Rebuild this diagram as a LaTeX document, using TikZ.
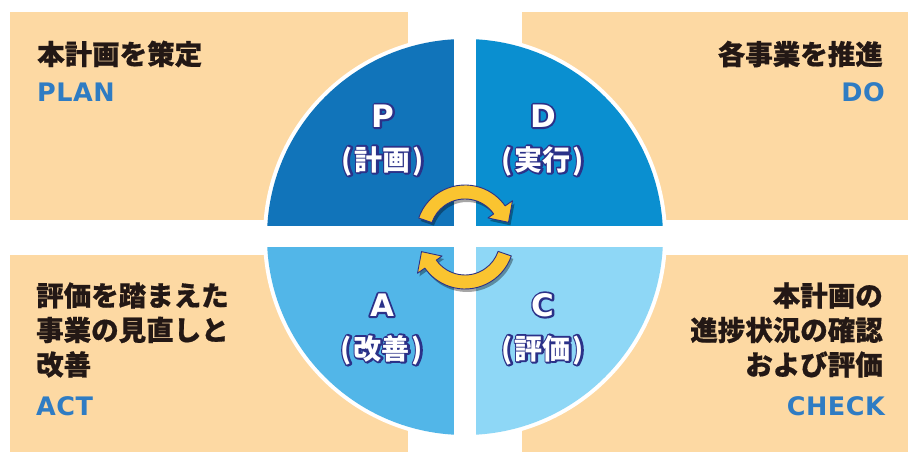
\documentclass[tikz,border=0pt]{standalone}
\usepackage{fontspec}
\newfontfamily\jp{Noto Sans CJK JP}
\newfontfamily\jph{Noto Sans CJK JP}[BoldFeatures={FakeBold=0.6}]
\newfontfamily\lat{DejaVu Sans}[LetterSpace=2]
\newfontfamily\latq{DejaVu Sans}
\usetikzlibrary{calc,shadows}
\definecolor{boxc}{HTML}{FDD9A3}
\definecolor{ink}{HTML}{231815}
\definecolor{blu}{HTML}{2F7CC3}
\definecolor{pc}{HTML}{1174BA}
\definecolor{dc}{HTML}{0A8FD0}
\definecolor{ac}{HTML}{52B6E8}
\definecolor{cc}{HTML}{8ED7F6}
\definecolor{navy}{HTML}{2B3188}
\definecolor{yel}{HTML}{FAC430}
\newcommand\otx[1]{%
  \makebox[0pt][l]{\special{pdf:literal direct 2 Tr 3.8 w 1 j}\textcolor{navy}{#1}\special{pdf:literal direct 0 Tr 0.4 w 0 j}}%
  \textcolor{white}{#1}}
\begin{document}
\begin{tikzpicture}[x=1pt,y=1pt,
  jtxt/.style={font=\jph\bfseries\fontsize{27.5}{34.5}\selectfont, text=ink, inner sep=0pt},
  etxt/.style={font=\lat\bfseries\fontsize{25.5}{25.5}\selectfont, text=blu, inner sep=0pt},
  qlbl/.style={inner sep=0pt, font=\jp\bfseries\fontsize{28}{28}\selectfont},
  qlet/.style={inner sep=0pt, font=\latq\bfseries\fontsize{31}{31}\selectfont},
  arrowshape/.style={fill=yel, draw=navy, line width=0.9pt, line join=round,
    drop shadow={shadow xshift=2pt,shadow yshift=-3pt,opacity=0.35,fill=black}}]
\useasboundingbox (0,0) rectangle (908,452);
\fill[white] (0,0) rectangle (908,452);
% boxes
\fill[boxc] (10,232) rectangle (408,440);
\fill[boxc] (522,232) rectangle (908,440);
\fill[boxc] (10,0) rectangle (408,197);
\fill[boxc] (522,0) rectangle (908,197);
% circle
\fill[white] (465,215) circle (202);
\begin{scope}
  \clip (465,215) circle (198);
  \fill[pc] (250,225.5) rectangle (454,420);
  \fill[dc] (476,225.5) rectangle (680,420);
  \fill[ac] (250,204.5) rectangle (454,10);
  \fill[cc] (476,204.5) rectangle (680,10);
\end{scope}
% arrows
\begin{scope}[shift={(465,218)}]
  \path[arrowshape] (161:49) arc[start angle=161,end angle=35,radius=49] -- (35:58) -- (15:45) -- (35:28) -- (35:35) arc[start angle=35,end angle=161,radius=35] -- cycle;
\end{scope}
\begin{scope}[shift={(465,212)}]
  \path[arrowshape] (-19:49) arc[start angle=-19,end angle=-145,radius=49] -- (-145:58) -- (-165:45) -- (-145:28) -- (-145:35) arc[start angle=-145,end angle=-19,radius=35] -- cycle;
\end{scope}
% box texts
\node[jtxt,anchor=west] (plj) at (37,398) {本計画を策定};
\node[etxt,anchor=west] (ple) at (37,360) {PLAN};
\node[jtxt,anchor=east] (doj) at (883,398) {各事業を推進};
\node[etxt,anchor=east] (doe) at (885,360) {DO};
\node[jtxt,anchor=west,align=left] (acj) at (36,122) {評価を踏まえた\\事業の見直しと\\改善};
\node[etxt,anchor=west] (ace) at (36,46) {ACT};
\node[jtxt,anchor=east,align=right] (chj) at (883,122) {本計画の\\進捗状況の確認\\および評価};
\node[etxt,anchor=east] (che) at (885,46) {CHECK};
% quadrant labels
\node[qlet] (pl) at (383,336) {\otx{P}};
\node[qlbl] (pk) at (383,291) {\otx{(\hspace{2pt}計画\hspace{2pt})}};
\node[qlet] (dl) at (543,336) {\otx{D}};
\node[qlbl] (dk) at (543,291) {\otx{(\hspace{2pt}実行\hspace{2pt})}};
\node[qlet] (al) at (382,147) {\otx{A}};
\node[qlbl] (ak) at (382,102) {\otx{(\hspace{2pt}改善\hspace{2pt})}};
\node[qlet] (cl) at (543,147) {\otx{C}};
\node[qlbl] (ck) at (543,102) {\otx{(\hspace{2pt}評価\hspace{2pt})}};
\end{tikzpicture}
\end{document}
